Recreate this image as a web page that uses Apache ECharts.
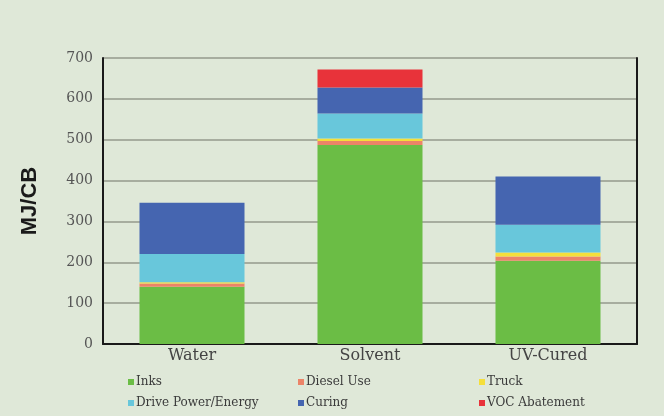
<!DOCTYPE html>
<html>
<head>
<meta charset="utf-8">
<script src="https://cdn.jsdelivr.net/npm/echarts@6/dist/echarts.min.js"></script>
<style>
  html, body { margin: 0; padding: 0; background: #dfe8d8; }
  #chart { width: 664px; height: 416px; }
</style>
</head>
<body>
<div id="chart"></div>
<script>
// Energy use per ink system, stacked by contributor (MJ/CB)
const categories = ['Water', 'Solvent', 'UV-Cured'];
const yTicks = [0, 100, 200, 300, 400, 500, 600, 700];

const inks = [140, 487, 204];
const dieselUse = [8, 10, 10];
const truck = [3, 6, 10];
const drivePower = [69, 61, 68];
const curing = [126, 64, 118];
const vocAbatement = [0, 44, 0];

const seriesDefs = [
  { name: 'Inks', data: inks, color: '#6bbd45' },
  { name: 'Diesel Use', data: dieselUse, color: '#ec8468' },
  { name: 'Truck', data: truck, color: '#f5df3a' },
  { name: 'Drive Power/Energy', data: drivePower, color: '#68c7db' },
  { name: 'Curing', data: curing, color: '#4565b0' },
  { name: 'VOC Abatement', data: vocAbatement, color: '#e8333a' }
];

const serif = '"DejaVu Serif", serif';

// three legend columns, two rows each
const legendColumns = [
  { left: 128, names: ['Inks', 'Drive Power/Energy'] },
  { left: 298, names: ['Diesel Use', 'Curing'] },
  { left: 479, names: ['Truck', 'VOC Abatement'] }
];

const chart = echarts.init(document.getElementById('chart'), null, { renderer: 'canvas' });

chart.setOption({
  backgroundColor: '#dfe8d8',
  animation: false,
  grid: { left: 103, right: 27, top: 58, bottom: 72 },
  legend: legendColumns.map(col => ({
    orient: 'vertical',
    left: col.left,
    top: 375,
    padding: 0,
    itemGap: 7,
    itemWidth: 6,
    itemHeight: 6,
    icon: 'rect',
    data: col.names,
    textStyle: { fontFamily: serif, fontSize: 12, color: '#3a3a3a', lineHeight: 14, padding: [0, 0, 0, -3] }
  })),
  xAxis: {
    type: 'category',
    data: categories,
    axisLine: { show: true, lineStyle: { color: '#1a1a1a', width: 2 } },
    axisTick: { show: false },
    axisLabel: { fontFamily: serif, fontSize: 16, color: '#444', margin: 4 }
  },
  yAxis: [
    {
      type: 'value',
      min: yTicks[0],
      max: yTicks[yTicks.length - 1],
      interval: 100,
      name: 'MJ/CB',
      nameLocation: 'middle',
      nameGap: 62,
      nameTextStyle: { fontFamily: '"Liberation Sans", Arial, sans-serif', fontWeight: 'bold', fontSize: 22, color: '#1a1a1a' },
      axisLine: { show: true, lineStyle: { color: '#1a1a1a', width: 2 } },
      axisTick: { show: false },
      axisLabel: { fontFamily: serif, fontSize: 14, color: '#555', margin: 10 },
      splitLine: { show: true, lineStyle: { color: '#a7ad9f', width: 2 } }
    },
    {
      type: 'value',
      position: 'right',
      min: yTicks[0],
      max: yTicks[yTicks.length - 1],
      interval: 100,
      axisLine: { show: true, lineStyle: { color: '#1a1a1a', width: 2 } },
      axisTick: { show: false },
      axisLabel: { show: false },
      splitLine: { show: false }
    }
  ],
  series: seriesDefs.map(s => ({
    name: s.name,
    type: 'bar',
    stack: 'total',
    barWidth: '59%',
    yAxisIndex: 0,
    data: s.data,
    itemStyle: { color: s.color }
  }))
});
</script>
</body>
</html>
